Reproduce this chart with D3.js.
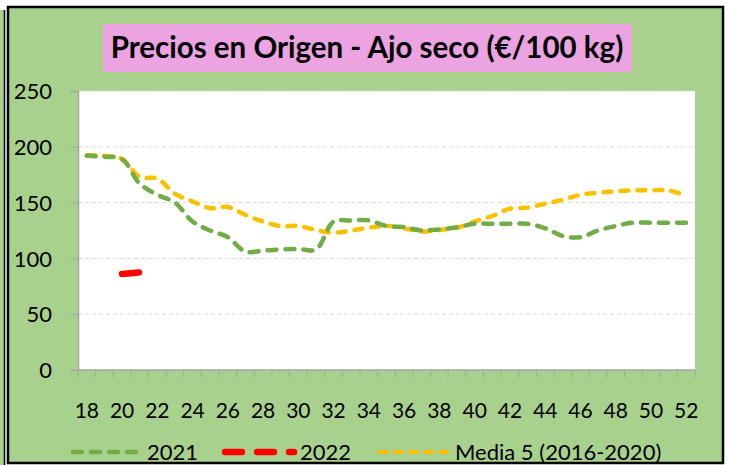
<!DOCTYPE html>
<html>
<head>
<meta charset="utf-8">
<script src="https://cdn.jsdelivr.net/npm/d3@7"></script>
<style>
  body { margin: 0; background: #fff; }
  text { font-family: Lato, "Open Sans", sans-serif; fill: #000; }
</style>
</head>
<body>
<div id="chart"></div>
<script>
// semanas 18..52
var weeks = d3.range(18, 53);
var tickLabels = ["18","20","22","24","26","28","30","32","34","36","38","40","42","44","46","48","50","52"];
var yTicks = [0, 50, 100, 150, 200, 250];

var serie2021 = [192, 191, 189, 167, 157, 150, 133, 125, 119, 106, 107, 108, 108.5, 108, 133, 134, 134, 129, 128, 125, 126, 128, 131, 131, 131, 131, 127, 120, 119, 125, 129, 132, 132, 132, 132];
var serie2022 = [null, null, 86, 87.5];
var media5 = [192.5, 192, 189, 173, 171.5, 158, 151, 145, 146, 139, 133, 129, 129, 125.5, 123, 125, 127.5, 129, 127, 124, 125.5, 127.5, 133, 138, 144.5, 145.5, 149, 152.5, 157, 159, 160, 161, 161, 161, 156];

var width = 729, height = 465;
var svg = d3.select("#chart").append("svg")
    .attr("width", width)
    .attr("height", height);

// marcos
svg.append("rect").attr("x", 0).attr("y", 10).attr("width", 5).attr("height", 455).attr("fill", "#A9D18E");
svg.append("line").attr("x1", 4.5).attr("x2", 4.5).attr("y1", 10).attr("y2", 465).attr("stroke", "#000").attr("stroke-width", 1.5);
svg.append("rect")
    .attr("x", 8).attr("y", 7).attr("width", 715).attr("height", 456)
    .attr("fill", "#A9D18E").attr("stroke", "#000").attr("stroke-width", 2.5);

// titulo
svg.append("rect").attr("x", 103).attr("y", 24).attr("width", 529).attr("height", 48).attr("fill", "#EBA3E1");
svg.append("text")
    .attr("x", 367).attr("y", 58)
    .attr("text-anchor", "middle")
    .style("font-size", "29.5px").style("font-weight", "bold")
    .text("Precios en Origen - Ajo seco (€/100 kg)");

var pLeft = 78, pRight = 695, pTop = 91, pBottom = 370;

var x = d3.scaleBand().domain(weeks).range([pLeft, pRight]);
var y = d3.scaleLinear().domain([0, 250]).range([pBottom, pTop]);

svg.append("rect").attr("x", pLeft).attr("y", pTop).attr("width", pRight - pLeft).attr("height", pBottom - pTop).attr("fill", "#fff");

// rejilla
svg.selectAll(".grid").data(yTicks.filter(function (d) { return d > 0; }))
    .enter().append("line")
    .attr("x1", pLeft).attr("x2", pRight)
    .attr("y1", function (d) { return y(d); }).attr("y2", function (d) { return y(d); })
    .attr("stroke", "#D9D9D9").attr("stroke-dasharray", "4,3");

// eje Y
var yAxis = svg.append("g").attr("transform", "translate(" + pLeft + ",0)")
    .call(d3.axisLeft(y).tickValues(yTicks).tickSize(8).tickPadding(18));
yAxis.select(".domain").attr("stroke", "#A6A6A6").attr("stroke-width", 1.5);
yAxis.selectAll(".tick line").attr("stroke", "#A6A6A6");
yAxis.selectAll("text").style("font-size", "22px").attr("dy", "0.35em").attr("fill", "#000")
    .style("font-family", "Lato, sans-serif");

// eje X
var bw = x.bandwidth();
var xEdges = weeks.map(function (w) { return x(w); }).concat([pRight]);
svg.selectAll(".xtick").data(xEdges).enter().append("line")
    .attr("x1", function (d) { return d; }).attr("x2", function (d) { return d; })
    .attr("y1", pBottom).attr("y2", pBottom + 8)
    .attr("stroke", "#A6A6A6");
svg.append("line").attr("x1", pLeft).attr("x2", pRight).attr("y1", pBottom).attr("y2", pBottom)
    .attr("stroke", "#A6A6A6").attr("stroke-width", 1.5);
svg.selectAll(".xlab").data(tickLabels).enter().append("text")
    .attr("x", function (d) { return x(+d) + bw / 2; })
    .attr("y", 418)
    .attr("text-anchor", "middle")
    .style("font-size", "21px")
    .text(function (d) { return d; });

// lineas
var line = d3.line()
    .defined(function (d) { return d != null; })
    .x(function (d, i) { return x(weeks[i]) + bw / 2; })
    .y(function (d) { return y(d); })
    .curve(d3.curveCatmullRom.alpha(0.5));

svg.append("path").datum(media5).attr("d", line)
    .attr("fill", "none").attr("stroke", "#FFC000").attr("stroke-width", 4.5)
    .attr("stroke-linecap", "round").attr("stroke-dasharray", "8,9");
svg.append("path").datum(serie2021).attr("d", line)
    .attr("fill", "none").attr("stroke", "#70AD47").attr("stroke-width", 4.5)
    .attr("stroke-linecap", "round").attr("stroke-dasharray", "9,9");
svg.append("path").datum(serie2022).attr("d", line)
    .attr("fill", "none").attr("stroke", "#FF0000").attr("stroke-width", 6.5)
    .attr("stroke-linecap", "round").attr("stroke-dasharray", "17,15");

// leyenda
var legend = [
    { name: "2021", color: "#70AD47", w: 4.5, dash: "9,9", x1: 73, x2: 140, tx: 147 },
    { name: "2022", color: "#FF0000", w: 6.5, dash: "17,15", x1: 225, x2: 294, tx: 300 },
    { name: "Media 5 (2016-2020)", color: "#FFC000", w: 4, dash: "7,8", x1: 380, x2: 450, tx: 455 }
];
var lg = svg.selectAll(".legend").data(legend).enter().append("g");
lg.append("line")
    .attr("x1", function (d) { return d.x1; }).attr("x2", function (d) { return d.x2; })
    .attr("y1", 452).attr("y2", 452)
    .attr("stroke", function (d) { return d.color; })
    .attr("stroke-width", function (d) { return d.w; })
    .attr("stroke-linecap", "round")
    .attr("stroke-dasharray", function (d) { return d.dash; });
lg.append("text")
    .attr("x", function (d) { return d.tx; }).attr("y", 460)
    .style("font-size", "22px")
    .text(function (d) { return d.name; });
</script>
</body>
</html>
